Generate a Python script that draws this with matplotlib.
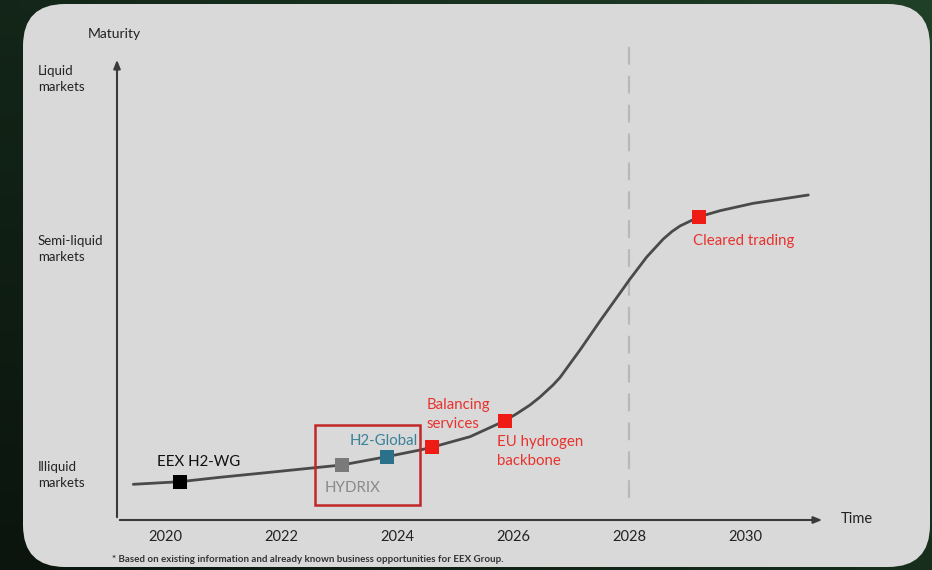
import matplotlib.pyplot as plt
import numpy as np
from matplotlib.colors import LinearSegmentedColormap
from matplotlib.patches import FancyBboxPatch, Rectangle

plt.rcParams['font.family'] = ['Lato', 'DejaVu Sans']

# maturity curve (year, maturity index)
curve_year = [2019.453, 2020.259, 2020.948, 2021.810, 2022.586, 2023.047, 2023.822,
              2024.397, 2024.598, 2025.259, 2025.862, 2026.069, 2026.293, 2026.466,
              2026.690, 2026.810, 2027.155, 2027.500, 2027.845, 2028.017, 2028.305,
              2028.591, 2028.741, 2028.879, 2029.212, 2029.569, 2030.143, 2030.719,
              2031.091]
curve_mat = [35.7, 38.3, 42.7, 47.7, 52.3, 55.0, 63.3,
             70.0, 72.7, 83.3, 99.3, 106.5, 115.0, 123.0,
             135.0, 142.5, 170.0, 199.0, 227.0, 241.0, 263.0,
             281.0, 288.5, 294.0, 303.3, 309.3, 316.7, 321.7,
             325.0]

# milestones
ms_names = ['EEX H2-WG', 'HYDRIX', 'H2-Global', 'Balancing\nservices',
            'EU hydrogen\nbackbone', 'Cleared trading']
ms_year = [2020.259, 2023.047, 2023.822, 2024.598, 2025.862, 2029.212]
ms_mat = [38.3, 55.0, 63.3, 72.7, 99.3, 303.3]
ms_colors = ['#000000', '#7a7a7a', '#2b7189', '#ee1c14', '#ee1c14', '#ee1c14']
ms_text_colors = ['#111111', '#8a8a8a', '#3a8299', '#e8322e', '#e8322e', '#e8322e']

x_ticks = [2020, 2022, 2024, 2026, 2028, 2030]
y_levels = [48, 274, 444]
y_labels = ['Illiquid\nmarkets', 'Semi-liquid\nmarkets', 'Liquid\nmarkets']

fig = plt.figure(figsize=(9.32, 5.70), dpi=100)
fig.patch.set_facecolor('#173220')

# dark green gradient background
bg = fig.add_axes([0, 0, 1, 1], zorder=-3)
gx, gy = np.meshgrid(np.linspace(0, 1, 50), np.linspace(0, 1, 50))
bg.imshow(0.6 * gx + 0.4 * (1 - gy),
          cmap=LinearSegmentedColormap.from_list('g', ['#0b150e', '#1f3f27']),
          aspect='auto', extent=[0, 1, 0, 1], origin='upper')
bg.set_axis_off()

# light panel
W, H = 932, 570
panel = FancyBboxPatch((23 / W, 3 / H), 907 / W, 563 / H,
                       boxstyle='round,pad=0,rounding_size=0.045',
                       transform=fig.transFigure, facecolor='#d9d9d9',
                       edgecolor='none', zorder=-2, mutation_aspect=W / H)
fig.patches.append(panel)

ax = fig.add_axes([117 / W, 50 / H, 708 / W, 463 / H])
ax.set_facecolor('none')
ax.set_xlim(2019.172, 2031.379)
ax.set_ylim(0, 463)
for s in ['top', 'right', 'left', 'bottom']:
    ax.spines[s].set_visible(False)

# axes arrows
arr = dict(arrowstyle='-|>,head_length=0.5,head_width=0.2', color='#3a3a3a', lw=1.5)
ax.annotate('', xy=(1.0, 0), xytext=(0, 0), xycoords='axes fraction', arrowprops=arr)
ax.annotate('', xy=(0, 1.0), xytext=(0, 0), xycoords='axes fraction', arrowprops=arr)

ax.set_xticks(x_ticks)
ax.set_xticklabels([str(t) for t in x_ticks], fontsize=10.5, color='#222222')
ax.set_yticks(y_levels)
ax.set_yticklabels(y_labels, fontsize=9.5, color='#222222', linespacing=1.42)
for lbl in ax.get_yticklabels():
    lbl.set_horizontalalignment('left')
ax.tick_params(axis='x', length=0, pad=7)
ax.tick_params(axis='y', length=0, pad=57)

ax.text(-0.004, 1.05, 'Maturity', transform=ax.transAxes, fontsize=10,
        color='#222222', ha='center', va='center')
ax.text(1.045, 0.002, 'Time', transform=ax.transAxes, fontsize=10.5,
        color='#222222', ha='center', va='center')

# 2028 dashed marker
ax.plot([2028.0, 2028.0], [22, 475], color='#b9b9b9', lw=1.6,
        dashes=(8, 5), clip_on=False, zorder=1)

ax.plot(curve_year, curve_mat, color='#4a4a4a', lw=2.0,
        solid_capstyle='round', solid_joinstyle='round', zorder=2)

# highlight box
ax.add_patch(Rectangle((2022.586, 15), 1.811, 80, fill=False, edgecolor='#c0282a',
                       lw=1.8, zorder=3))

for x, y, c in zip(ms_year, ms_mat, ms_colors):
    ax.plot(x, y, marker='s', markersize=9.5, color=c, markeredgewidth=0, zorder=4)

# milestone labels (offset in points)
offsets = [(-16.5, 14.4), (-12, -16.5), (-27, 11.5),
           (-3.6, 23.4), (-5.8, -22.3), (-4.3, -17.3)]
for name, x, y, tc, (dx, dy) in zip(ms_names, ms_year, ms_mat, ms_text_colors, offsets):
    ax.annotate(name, xy=(x, y), xytext=(dx, dy), textcoords='offset points',
                fontsize=10.8, color=tc, ha='left', va='center',
                linespacing=1.45, zorder=5)

fig.text(112 / W, 1 - 560 / H,
         '* Based on existing information and already known business opportunities for EEX Group.',
         fontsize=7, color='#333333', ha='left', va='center', fontweight='bold')

fig.savefig('out.png', dpi=100, facecolor=fig.get_facecolor())
